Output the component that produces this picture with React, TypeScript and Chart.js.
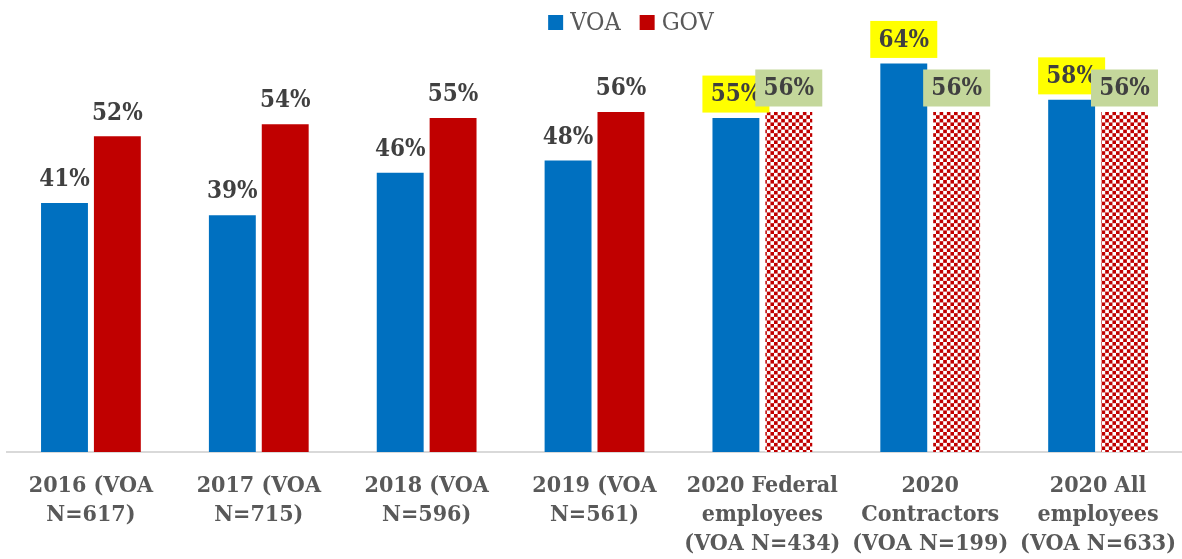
import React, { useEffect, useRef } from "react";
import { Chart, registerables } from "chart.js";

Chart.register(...registerables);

const categories: string[][] = [
  ["2016 (VOA", "N=617)"],
  ["2017 (VOA", "N=715)"],
  ["2018 (VOA", "N=596)"],
  ["2019 (VOA", "N=561)"],
  ["2020 Federal", "employees", "(VOA N=434)"],
  ["2020", "Contractors", "(VOA N=199)"],
  ["2020 All", "employees", "(VOA N=633)"],
];
const voaValues = [41, 39, 46, 48, 55, 64, 58];
const govValues = [52, 54, 55, 56, 56, 56, 56];
const highlighted = [false, false, false, false, true, true, true];
const seriesNames = ["VOA", "GOV"];

const FONT = "'DejaVu Serif Condensed', 'DejaVu Serif', serif";
const BLUE = "#0070C0";
const RED = "#C00000";

function makeChecker(): CanvasPattern | string {
  const c = document.createElement("canvas");
  c.width = 8;
  c.height = 8;
  const g = c.getContext("2d");
  if (!g) return RED;
  g.fillStyle = "#FFFFFF";
  g.fillRect(0, 0, 8, 8);
  g.fillStyle = RED;
  g.fillRect(0, 0, 4, 4);
  g.fillRect(4, 4, 4, 4);
  const p = g.createPattern(c, "repeat");
  if (!p) return RED;
  try {
    p.setTransform(new DOMMatrix().scale(0.9, 0.9));
  } catch (e) {
    /* ignore */
  }
  return p;
}

export default function App() {
  const ref = useRef<HTMLCanvasElement | null>(null);

  useEffect(() => {
    document.body.style.margin = "0";
    const canvas = ref.current;
    if (!canvas) return;
    const checker = makeChecker();

    const legendPlugin = {
      id: "customLegend",
      afterDraw(chart: any) {
        const ctx = chart.ctx;
        ctx.save();
        ctx.font = `25px ${FONT}`;
        ctx.textBaseline = "alphabetic";
        const box = 15;
        const gapText = 7;
        const gapItem = 19;
        const colors = [BLUE, RED];
        const widths = seriesNames.map((n) => ctx.measureText(n).width);
        const total = widths.reduce((a, w) => a + box + gapText + w, 0) + gapItem;
        let x = 631 - total / 2;
        seriesNames.forEach((n, i) => {
          ctx.fillStyle = colors[i];
          ctx.fillRect(x, 15, box, box);
          x += box + gapText;
          ctx.fillStyle = "#595959";
          ctx.textAlign = "left";
          ctx.fillText(n, x, 30);
          x += widths[i] + gapItem;
        });
        ctx.restore();
      },
    };

    const labelPlugin = {
      id: "valueLabels",
      afterDatasetsDraw(chart: any) {
        const ctx = chart.ctx;
        ctx.save();
        ctx.font = `bold 24px ${FONT}`;
        ctx.textAlign = "center";
        ctx.textBaseline = "middle";
        chart.data.datasets.forEach((ds: any, di: number) => {
          const meta = chart.getDatasetMeta(di);
          meta.data.forEach((bar: any, i: number) => {
            const text = `${ds.data[i]}%`;
            const cx = bar.x;
            const cy = bar.y - 24;
            if (highlighted[i]) {
              ctx.fillStyle = di === 0 ? "#FFFF00" : "#C4D79B";
              ctx.fillRect(cx - 33.5, cy - 18.5, 67, 37);
            }
            ctx.fillStyle = "#404040";
            ctx.fillText(text, cx, cy + 1);
          });
        });
        ctx.restore();
      },
    };

    const chart = new Chart(canvas, {
      type: "bar",
      data: {
        labels: categories,
        datasets: [
          {
            label: seriesNames[0],
            data: voaValues,
            backgroundColor: BLUE,
            categoryPercentage: 0.63,
            barPercentage: 0.887,
          },
          {
            label: seriesNames[1],
            data: govValues,
            backgroundColor: govValues.map((_, i) => (highlighted[i] ? checker : RED)) as any,
            categoryPercentage: 0.63,
            barPercentage: 0.887,
          },
        ],
      },
      options: {
        responsive: false,
        animation: false,
        layout: { padding: { top: 27, left: 7, right: -2, bottom: 0 } },
        plugins: {
          legend: { display: false },
          tooltip: { enabled: false },
        },
        scales: {
          x: {
            grid: { display: false, drawTicks: false },
            border: { display: true, color: "#D9D9D9", width: 2 },
            ticks: {
              color: "#595959",
              font: { family: FONT, size: 23, weight: "bold", lineHeight: 1.25 },
              padding: 20,
              maxRotation: 0,
              autoSkip: false,
            },
            afterFit(scale: any) {
              scale.height = 107;
              scale.paddingLeft = 0;
              scale.paddingRight = 0;
            },
          },
          y: {
            display: false,
            min: 0,
            max: 70,
          },
        },
      },
      plugins: [legendPlugin, labelPlugin],
    });

    return () => chart.destroy();
  }, []);

  return (
    <div style={{ width: 1182, height: 559 }}>
      <canvas ref={ref} width={1182} height={559} style={{ display: "block" }} />
    </div>
  );
}
